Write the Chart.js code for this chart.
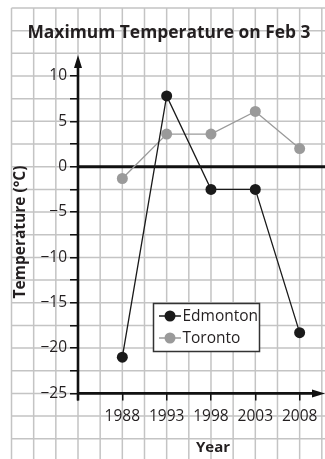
<!DOCTYPE html>
<html lang="en">
<head>
<meta charset="UTF-8">
<title>Maximum Temperature on Feb 3</title>
<script src="https://cdn.jsdelivr.net/npm/chart.js@4.4.0/dist/chart.umd.min.js"></script>
<style>
  html, body { margin: 0; padding: 0; background: #fff; }
  #wrap { width: 325px; height: 459px; }
</style>
</head>
<body>
<div id="wrap"><canvas id="tempChart"></canvas></div>
<script>
// data
const years = [1988, 1993, 1998, 2003, 2008];
const edmonton = [-21, 7.8, -2.5, -2.5, -18.3];
const toronto = [-1.3, 3.6, 3.6, 6.1, 2.0];

const seriesNames = ['Edmonton', 'Toronto'];
const xTickValues = [1983, 1988, 1993, 1998, 2003, 2008];
const yTickValues = [-25, -22.5, -20, -17.5, -15, -12.5, -10, -7.5, -5, -2.5, 0, 2.5, 5, 7.5, 10];
const yTickLabels = ['−25', '', '−20', '', '−15', '', '−10', '', '−5', '', '0', '', '5', '', '10'];

const titleText = 'Maximum Temperature on Feb 3';
const yTitle = 'Temperature (°C)';
const xTitle = 'Year';

const ink = '#231f20';
const font = '"Open Sans", "DejaVu Sans", sans-serif';

// graph paper behind the plot, aligned to the scales (one cell = 2.5 units)
const paperPlugin = {
  id: 'paper',
  beforeDraw(chart) {
    const ctx = chart.ctx, xs = chart.scales.x, ys = chart.scales.y;
    const top = ys.getPixelForValue(17.5);
    const left = xs.getPixelForValue(1975.5);
    ctx.save();
    ctx.fillStyle = '#fff';
    ctx.fillRect(0, 0, chart.width, chart.height);
    ctx.strokeStyle = '#c4c4c4';
    ctx.lineWidth = 1.5;
    ctx.beginPath();
    for (let v = 1975.5; xs.getPixelForValue(v) < chart.width + 1; v += 2.5) {
      const px = xs.getPixelForValue(v);
      ctx.moveTo(px, top);
      ctx.lineTo(px, chart.height);
    }
    for (let v = 17.5; ys.getPixelForValue(v) < chart.height + 1; v -= 2.5) {
      const py = ys.getPixelForValue(v);
      ctx.moveTo(left, py);
      ctx.lineTo(chart.width, py);
    }
    ctx.stroke();
    ctx.restore();
  },
  beforeDatasetsDraw(chart) {
    const ctx = chart.ctx, xs = chart.scales.x, ys = chart.scales.y;
    const ax = xs.getPixelForValue(1983);
    const ay = ys.getPixelForValue(-25);
    const zy = ys.getPixelForValue(0);
    const right = chart.width;
    const top = chart.chartArea.top;
    ctx.save();
    ctx.strokeStyle = '#111';
    ctx.fillStyle = '#111';
    ctx.lineWidth = 2.6;
    ctx.beginPath();
    ctx.moveTo(ax, ay + 7);
    ctx.lineTo(ax, top + 10);
    ctx.moveTo(ax - 1, ay);
    ctx.lineTo(right - 10, ay);
    ctx.stroke();
    ctx.lineWidth = 3;
    ctx.beginPath();
    ctx.moveTo(ax, zy);
    ctx.lineTo(right, zy);
    ctx.stroke();
    // arrow heads
    ctx.beginPath();
    ctx.moveTo(ax, top);
    ctx.lineTo(ax - 4, top + 13);
    ctx.lineTo(ax + 4, top + 13);
    ctx.closePath();
    ctx.moveTo(right, ay);
    ctx.lineTo(right - 13, ay - 4);
    ctx.lineTo(right - 13, ay + 4);
    ctx.closePath();
    ctx.fill();
    ctx.restore();
  },
  afterDraw(chart) {
    const ctx = chart.ctx;
    ctx.save();
    ctx.fillStyle = ink;
    ctx.textAlign = 'center';
    ctx.textBaseline = 'alphabetic';
    ctx.font = 'bold 17.4px ' + font;
    ctx.fillText(titleText, 169, 38);
    ctx.font = 'bold 15px ' + font;
    ctx.fillText(xTitle, 213, 452);
    ctx.translate(24.5, 232);
    ctx.rotate(-Math.PI / 2);
    ctx.font = 'bold 15.5px ' + font;
    ctx.fillText(yTitle, 0, 0);
    ctx.restore();

    // legend box
    ctx.save();
    const bx = 153.5, by = 303.5, bw = 106, bh = 48;
    ctx.fillStyle = '#fff';
    ctx.fillRect(bx, by, bw, bh);
    ctx.strokeStyle = '#333';
    ctx.lineWidth = 1.5;
    ctx.strokeRect(bx, by, bw, bh);
    chart.data.datasets.forEach((ds, i) => {
      const ry = 316 + i * 22;
      ctx.strokeStyle = ds.borderColor;
      ctx.lineWidth = 1.5;
      ctx.beginPath();
      ctx.moveTo(159, ry);
      ctx.lineTo(181, ry);
      ctx.stroke();
      ctx.fillStyle = ds.pointBackgroundColor;
      ctx.beginPath();
      ctx.arc(170, ry, 5.5, 0, Math.PI * 2);
      ctx.fill();
      ctx.fillStyle = ink;
      ctx.font = '15.5px ' + font;
      ctx.textAlign = 'left';
      ctx.textBaseline = 'middle';
      ctx.fillText(ds.label, 182.5, ry + 1);
    });
    ctx.restore();
  }
};

const toPoints = vals => years.map((yr, i) => ({ x: yr, y: vals[i] }));

new Chart(document.getElementById('tempChart'), {
  type: 'line',
  data: {
    datasets: [
      {
        label: seriesNames[0],
        data: toPoints(edmonton),
        borderColor: '#1a1a1a',
        backgroundColor: '#1a1a1a',
        pointBackgroundColor: '#1a1a1a',
        borderWidth: 1.3,
        pointRadius: 5.5,
        pointBorderWidth: 0,
        tension: 0,
        clip: false
      },
      {
        label: seriesNames[1],
        data: toPoints(toronto),
        borderColor: '#9a9a9a',
        backgroundColor: '#9a9a9a',
        pointBackgroundColor: '#9a9a9a',
        borderWidth: 1.3,
        pointRadius: 5.5,
        pointBorderWidth: 0,
        tension: 0,
        clip: false
      }
    ]
  },
  options: {
    responsive: true,
    maintainAspectRatio: false,
    animation: false,
    layout: { padding: { top: 55, left: 0, right: 0, bottom: 0 } },
    plugins: {
      legend: { display: false },
      title: { display: false },
      tooltip: { enabled: false }
    },
    scales: {
      x: {
        type: 'linear',
        min: 1983,
        max: 2010.24,
        afterBuildTicks: s => { s.ticks = xTickValues.map(v => ({ value: v })); },
        afterFit: s => { s.height = 65.6; },
        grid: { drawOnChartArea: false, drawTicks: true, tickLength: 7, color: '#111', lineWidth: 1.5 },
        border: { display: false },
        ticks: {
          padding: 6.5,
          color: ink,
          font: { family: font, size: 15.5 },
          maxRotation: 0,
          autoSkip: false,
          callback: v => (v === 1983 ? '' : String(v))
        }
      },
      y: {
        type: 'linear',
        min: -25,
        max: 12.32,
        afterBuildTicks: s => { s.ticks = yTickValues.map(v => ({ value: v })); },
        afterFit: s => { s.width = 78; },
        grid: { drawOnChartArea: false, drawTicks: true, tickLength: 8, color: '#111', lineWidth: 1.5 },
        border: { display: false },
        ticks: {
          padding: 3,
          color: ink,
          font: { family: font, size: 15.5 },
          autoSkip: false,
          callback: v => yTickLabels[yTickValues.indexOf(v)] ?? ''
        }
      }
    }
  },
  plugins: [paperPlugin]
});
</script>
</body>
</html>
